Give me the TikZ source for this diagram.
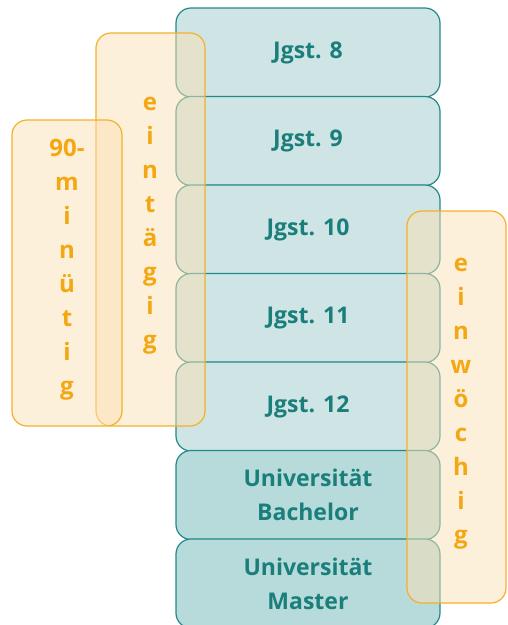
\documentclass[tikz,border=0pt]{standalone}
\usepackage{fontspec}
\setmainfont{Open Sans}
\usepackage{tikz}

\definecolor{tealrand}{HTML}{22898A}
\definecolor{tealhell}{HTML}{CFE4E5}
\definecolor{tealdunkel}{HTML}{B7DADA}
\definecolor{tealtext}{HTML}{1A7E7B}
\definecolor{orangerand}{HTML}{F4B02B}
\definecolor{orangefill}{HTML}{FBE1B5}
\definecolor{orangetext}{HTML}{F3A712}

\begin{document}
\begin{tikzpicture}[x=1pt,y=-1pt,
  stufe/.style={draw=tealrand,fill=tealhell,line width=1.2pt,rounded corners=15pt,
    minimum width=264pt,minimum height=89pt,inner sep=0pt,text=tealtext,
    font=\bfseries\fontsize{23}{34}\selectfont,align=center},
  uni/.style={stufe,fill=tealdunkel},
  dauer/.style={draw=orangerand,fill=orangefill,fill opacity=0.5,line width=1.2pt,
    rounded corners=15pt,inner sep=0pt},
  buchstaben/.style={text=orangetext,font=\bfseries\fontsize{24}{34}\selectfont,align=center}]
\useasboundingbox (0,0) rectangle (507,625);

% Jahrgangsstufen
\node [stufe] (j8)  at (308,52.5)  {Jgst. 8};
\node [stufe] (j9)  at (308,141)   {Jgst. 9};
\node [stufe] (j10) at (308,229.5) {Jgst. 10};
\node [stufe] (j11) at (308,318)   {Jgst. 11};
\node [stufe] (j12) at (308,406.5) {Jgst. 12};
\node [uni] (bachelor) at (308,495)   {Universität\\Bachelor};
\node [uni] (master)   at (308,583.5) {Universität\\Master};

% Dauer
\node [dauer,minimum width=109pt,minimum height=393pt] (eintaegig) at (150.5,229.5) {};
\node [dauer,minimum width=110pt,minimum height=306pt] (minuetig) at (67,273) {};
\node [dauer,minimum width=99pt,minimum height=392pt] (einwoechig) at (456.5,407) {};

\node [buchstaben] (eintaegigtext) at (150,226) {e\\i\\n\\t\\ä\\g\\i\\g};
\node [buchstaben] (minuetigtext) at (67,270) {90-\\m\\i\\n\\ü\\t\\i\\g};
\node [buchstaben] (einwoechigtext) at (461,404) {e\\i\\n\\w\\ö\\c\\h\\i\\g};

\end{tikzpicture}
\end{document}
